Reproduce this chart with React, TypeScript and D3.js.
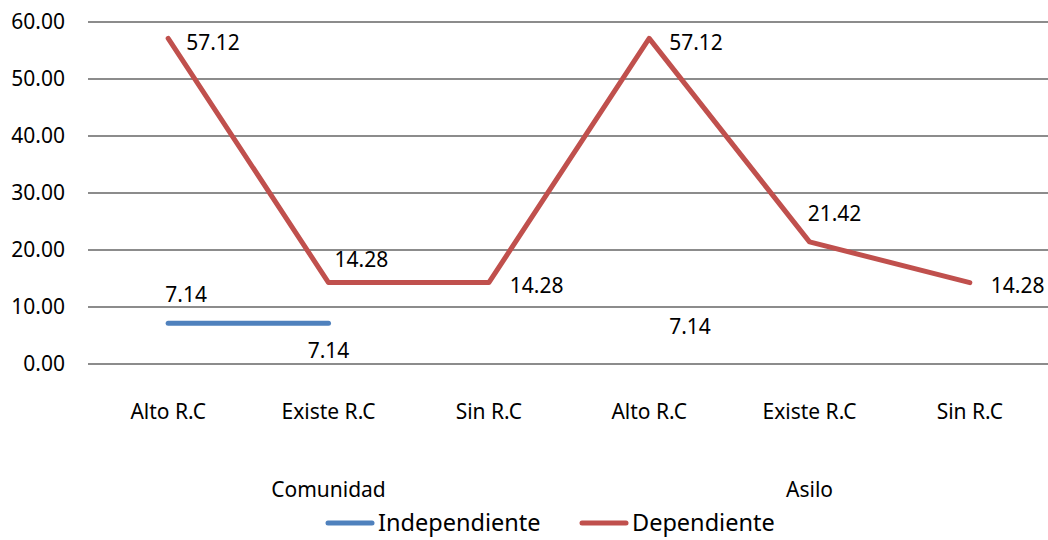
import React from "react";
import * as d3 from "d3";

const categories = ["Alto R.C", "Existe R.C", "Sin R.C", "Alto R.C", "Existe R.C", "Sin R.C"];
const groups = ["Comunidad", "Asilo"];
const independiente: (number | null)[] = [7.14, 7.14, null, 7.14, null, null];
const dependiente: number[] = [57.12, 14.28, 14.28, 57.12, 21.42, 14.28];
const yTicks = [0, 10, 20, 30, 40, 50, 60];

// label offsets (styling), relative to the point
const indepLabelOffset: [number, number, string][] = [
  [18, -29, "middle"], [0, 27, "middle"], [0, 0, "start"], [20, 3, "start"], [0, 0, "start"], [0, 0, "start"],
];
const depLabelOffset: [number, number, string][] = [
  [18, 4, "start"], [6, -23, "start"], [21, 3, "start"], [20, 4, "start"], [25, -28, "middle"], [21, 3, "start"],
];

const W = 1048, H = 540;
const BLUE = "#4F81BD", RED = "#C0504D";
const FONT = "'Noto Sans', sans-serif";

export default function App() {
  const x = d3.scalePoint<number>().domain(d3.range(categories.length)).range([88, 1050]).padding(0.5);
  const y = d3.scaleLinear().domain([0, 60]).range([364, 22]);

  const line = d3.line<[number, number]>()
    .x((d) => x(d[0]) as number)
    .y((d) => y(d[1]));

  // only draw segments between consecutive defined values (no isolated dots)
  const segmentsOf = (vals: (number | null)[]) => {
    const segs: [number, number][][] = [];
    for (let i = 0; i < vals.length - 1; i++) {
      const a = vals[i], b = vals[i + 1];
      if (a !== null && b !== null) segs.push([[i, a], [i + 1, b]]);
    }
    return segs;
  };

  const groupCenter = (g: number) => ((x(g * 3 + 1) as number));

  return (
    <svg width={W} height={H} style={{ position: "absolute", left: 0, top: 0, background: "#fff" }} fontFamily={FONT}>
      {yTicks.map((t) => (
        <g key={t}>
          <line x1={88} x2={W} y1={y(t)} y2={y(t)} stroke="#8c8c8c" strokeWidth={2} />
          <text x={65} y={y(t)} dy="0.35em" textAnchor="end" fontSize={21} fill="#000">{t.toFixed(2)}</text>
        </g>
      ))}
      {categories.map((c, i) => (
        <text key={i} x={x(i)} y={412} dy="0.35em" textAnchor="middle" fontSize={21} fill="#000">{c}</text>
      ))}
      {groups.map((g, i) => (
        <text key={g} x={groupCenter(i)} y={490} dy="0.35em" textAnchor="middle" fontSize={21} fill="#000">{g}</text>
      ))}
      <path d={line(dependiente.map((v, i) => [i, v] as [number, number])) || ""} fill="none" stroke={RED} strokeWidth={5} strokeLinejoin="round" strokeLinecap="round" />
      {segmentsOf(independiente).map((s, k) => (
        <path key={k} d={line(s) || ""} fill="none" stroke={BLUE} strokeWidth={5} strokeLinejoin="round" strokeLinecap="round" />
      ))}
      {dependiente.map((v, i) => (
        <text key={"d" + i} x={(x(i) as number) + depLabelOffset[i][0]} y={y(v) + depLabelOffset[i][1]} dy="0.35em"
          textAnchor={depLabelOffset[i][2]} fontSize={21} fill="#000">{v.toFixed(2)}</text>
      ))}
      {independiente.map((v, i) => v === null ? null : (
        <text key={"i" + i} x={(x(i) as number) + indepLabelOffset[i][0]} y={y(v) + indepLabelOffset[i][1]} dy="0.35em"
          textAnchor={indepLabelOffset[i][2]} fontSize={21} fill="#000">{v.toFixed(2)}</text>
      ))}
      <g>
        <line x1={328} x2={372} y1={523} y2={523} stroke={BLUE} strokeWidth={5} strokeLinecap="round" />
        <text x={378} y={523} dy="0.35em" fontSize={23.5} fill="#000">Independiente</text>
        <line x1={582} x2={626} y1={523} y2={523} stroke={RED} strokeWidth={5} strokeLinecap="round" />
        <text x={632} y={523} dy="0.35em" fontSize={23.5} fill="#000">Dependiente</text>
      </g>
    </svg>
  );
}
